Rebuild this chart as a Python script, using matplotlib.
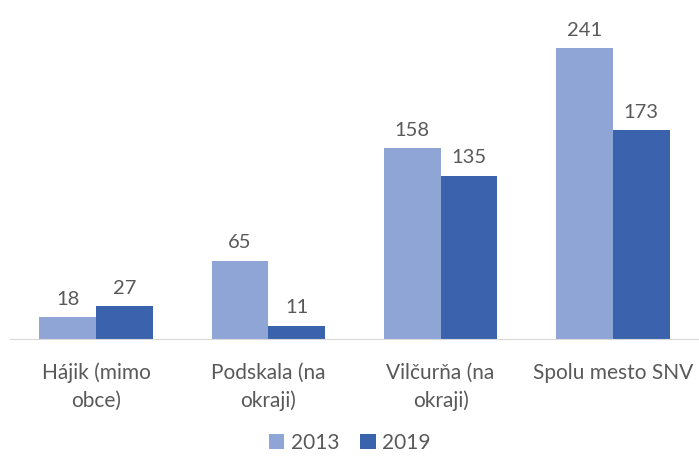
import numpy as np
import matplotlib
matplotlib.use("Agg")
import matplotlib.pyplot as plt

categories = ["Hájik (mimo\nobce)", "Podskala (na\nokraji)", "Vilčurňa (na\nokraji)", "Spolu mesto SNV"]
values_2013 = [18, 65, 158, 241]
values_2019 = [27, 11, 135, 173]
series = ["2013", "2019"]

light = "#8FA5D6"
dark = "#3B63AD"
grey = "#595959"

plt.rcParams["font.family"] = ["Lato", "DejaVu Sans"]

fig = plt.figure(figsize=(6.99, 4.59), dpi=100)
ax = fig.add_axes([10 / 699, 120 / 459, 689 / 699, 339 / 459])

x = np.arange(len(categories))
w = 0.33
b1 = ax.bar(x - w / 2, values_2013, w, color=light, label=series[0])
b2 = ax.bar(x + w / 2, values_2019, w, color=dark, label=series[1])

for bars in (b1, b2):
    for r in bars:
        ax.annotate(f"{int(r.get_height())}", (r.get_x() + r.get_width() / 2, r.get_height()),
                    xytext=(0, 7), textcoords="offset points", ha="center", va="bottom",
                    fontsize=14.5, color=grey)

ax.set_xlim(-0.5, len(categories) - 0.5)
ax.set_ylim(0, 281)
ax.set_xticks(x)
ax.set_xticklabels(categories, fontsize=15, color=grey, linespacing=1.45)
ax.tick_params(axis="x", length=0, pad=17)
ax.set_yticks([])
for s in ["top", "right", "left"]:
    ax.spines[s].set_visible(False)
ax.spines["bottom"].set_color("#D9D9D9")

fig.legend(loc="lower center", ncol=2, frameon=False, fontsize=15, labelcolor=grey,
           handlelength=0.75, handleheight=0.75, columnspacing=1.0, handletextpad=0.3,
           borderaxespad=0.0, bbox_to_anchor=(0.5, -0.005))

fig.savefig("out.png", dpi=100)
